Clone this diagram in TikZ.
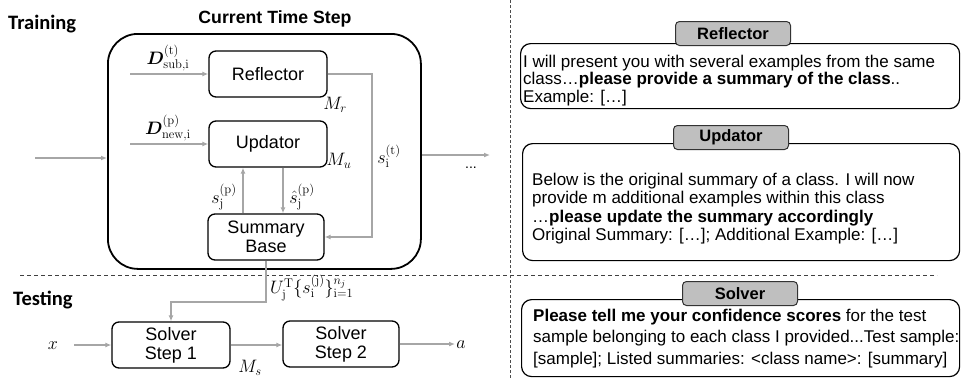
\RequirePackage{fix-cm}
\documentclass[tikz,border=0pt]{standalone}
\usepackage[no-math]{fontspec}
\setmainfont{Liberation Sans}
\newfontfamily\calfont{Carlito}
\usepackage{bm}
\usetikzlibrary{arrows.meta}
\definecolor{arrowgray}{HTML}{A6A6A6}
\definecolor{taggray}{HTML}{BFBFBF}
\tikzset{
  box/.style={draw, line width=1.3pt, rounded corners=7pt, minimum width=118pt, minimum height=46pt,
    align=center, font=\fontsize{18}{19}\selectfont, inner sep=0pt},
  garrow/.style={draw=arrowgray, line width=1.3pt, -{Latex[length=6pt,width=5pt]}},
  mlabel/.style={font=\fontsize{18}{20}\selectfont, inner sep=0pt},
  panel/.style={draw, line width=1.2pt, rounded corners=10pt, anchor=north west, inner sep=0pt},
  tagbox/.style={draw=black!80, fill=taggray, line width=1pt, rounded corners=4pt, minimum width=115pt,
    minimum height=24pt, inner sep=0pt, anchor=north west, font=\bfseries\fontsize{16.5}{18}\selectfont},
  ptext/.style={anchor=base west, inner sep=0pt, font=\fontsize{17}{20}\selectfont},
  heading/.style={anchor=base west, inner sep=0pt, font=\calfont\bfseries\fontsize{20.5}{22}\selectfont},
}
\begin{document}
\begin{tikzpicture}[x=1pt,y=-1pt]
\useasboundingbox (0,0) rectangle (962,378);

% separators
\coordinate (hl) at (20,275);
\coordinate (hr) at (937,275);
\draw[dash pattern=on 4pt off 3pt, line width=0.9pt, draw=black!75] (hl) -- (hr);
\coordinate (vt) at (510,0);
\coordinate (vb) at (510,378);
\draw[dash pattern=on 3pt off 2pt, line width=0.8pt, draw=black!70] (vt) -- (vb);

% headings
\node[heading] (train) at (8,29.5) {Training};
\node[heading] (test) at (13,305) {Testing};
\node[anchor=base, inner sep=0pt, font=\bfseries\fontsize{17.7}{20}\selectfont] (cts) at (275,23) {Current Time Step};

% outer box
\node[draw, line width=1.8pt, rounded corners=30pt, minimum width=313pt, minimum height=235pt,
  anchor=north west, inner sep=0pt] (outer) at (107,33) {};

% modules
\node[box] (refl) at (268,74) {Reflector};
\node[box] (upd) at (268,144) {Updator};
\node[box, minimum width=116pt] (sb) at (266,237) {Summary\\Base};
\node[box] (s1) at (171,345) {Solver\\Step 1};
\node[box, minimum width=116pt] (s2) at (341,344) {Solver\\Step 2};

% inputs
\coordinate (in1) at (130,74);
\coordinate (in2) at (130,144);
\draw[garrow] (in1) -- (refl.west);
\draw[garrow] (in2) -- (upd.west);
\node[mlabel] (dsub) at (168,58) {$\bm{D}^{(\mathrm{t})}_{\mathrm{sub,i}}$};
\node[mlabel] (dnew) at (168,128) {$\bm{D}^{(\mathrm{p})}_{\mathrm{new,i}}$};
\node[mlabel] (mr) at (335,105) {$M_r$};
\node[mlabel] (mu) at (339,161) {$M_u$};

% reflector to summary base
\coordinate (rx) at (372,0);
\draw[garrow] (refl.east) -- (refl.east -| rx) |- (sb.east);
\node[mlabel] (sit) at (389,156) {$s_{\mathrm{i}}^{(\mathrm{t})}$};

% updator <-> summary base
\coordinate (xu) at (243,0);
\coordinate (xd) at (283,0);
\draw[garrow] (sb.north -| xu) -- (upd.south -| xu);
\draw[garrow] (upd.south -| xd) -- (sb.north -| xd);
\node[mlabel] (sjp) at (224,197) {$s_{\mathrm{j}}^{(\mathrm{p})}$};
\node[mlabel] (shjp) at (302,197) {$\hat{s}_{\mathrm{j}}^{(\mathrm{p})}$};

% time step in/out
\coordinate (lin) at (35,158);
\draw[garrow] (lin) -- (lin -| outer.west);
\coordinate (lout) at (490,155);
\draw[garrow] (lout -| outer.east) -- (lout);
\node[inner sep=0pt, font=\fontsize{14}{16}\selectfont] (dots) at (471,168) {...};

% summary base to solver
\coordinate (bend) at (266,302);
\draw[garrow] (sb.south) -- (bend) -| (s1.north);
\node[mlabel, anchor=west] (ulab) at (270,288) {$U_{\mathrm{j}}^{\mathrm{T}}\{s_{\mathrm{i}}^{(\mathrm{j})}\}_{\mathrm{i}=1}^{n_j}$};

% testing flow
\node[mlabel] (xl) at (53,346) {$x$};
\coordinate (xin) at (74,0);
\draw[garrow] (s1.west -| xin) -- (s1.west);
\draw[garrow] (s1.east) -- (s1.east -| s2.west);
\node[mlabel] (ms) at (250,368) {$M_s$};
\coordinate (aout) at (455,0);
\draw[garrow] (s2.east) -- (s2.east -| aout);
\node[mlabel] (al) at (461,345) {$a$};

% prompt panels
\node[panel, minimum width=439pt, minimum height=65pt] (rp) at (520,43) {};
\node[tagbox] (rt) at (675,21) {Reflector};
\node[ptext] (r1) at (523,67) {I will present you with several examples from the same};
\node[ptext] (r2) at (523,84.5) {class…\textbf{please provide a summary of the class}..};
\node[ptext] (r3) at (523,102) {Example: […]};

\node[panel, minimum width=437pt, minimum height=117pt] (up) at (522,143) {};
\node[tagbox] (ut) at (673,125) {Updator};
\node[ptext] (u1) at (532,185) {Below is the original summary of a class. I will now};
\node[ptext] (u2) at (532,203.5) {provide m additional examples within this class};
\node[ptext] (u3) at (532,222) {…\textbf{please update the summary accordingly}};
\node[ptext] (u4) at (532,240.5) {Original Summary: […]; Additional Example: […]};

\node[panel, minimum width=438pt, minimum height=77pt] (sp) at (521,299) {};
\node[tagbox] (st) at (682,281) {Solver};
\node[ptext] (p1) at (533,321) {\textbf{Please tell me your confidence scores} for the test};
\node[ptext] (p2) at (533,342.5) {sample belonging to each class I provided...Test sample:};
\node[ptext] (p3) at (533,364) {[sample]; Listed summaries: <class name>: [summary]};
\end{tikzpicture}
\end{document}
